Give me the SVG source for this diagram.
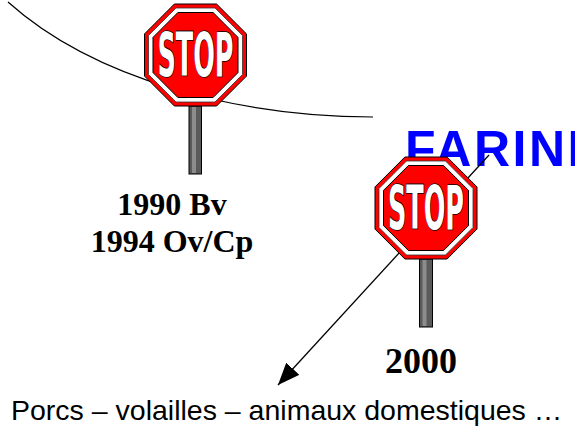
<svg xmlns="http://www.w3.org/2000/svg" width="575" height="429" viewBox="0 0 575 429">
<style>
.red{fill:#ff0000;stroke:#000;stroke-width:1}
.wht{fill:#fff;stroke:#333;stroke-width:0.8}
.stop{font-family:"Liberation Sans Narrow","DejaVu Sans Condensed","Liberation Sans",sans-serif;font-weight:bold;font-size:34px;fill:#fff;stroke:#000;stroke-width:0.9;paint-order:stroke}
.pole{fill:#5a5a5a;stroke:#000;stroke-width:1}
.poleh{fill:#8c8c8c}
.yr{font-family:"Liberation Serif","Times New Roman",serif;font-weight:bold;fill:#000}
</style>
<defs>
<marker id="ah" markerUnits="userSpaceOnUse" markerWidth="24" markerHeight="18" refX="22" refY="9" orient="auto">
<path d="M0,0 L22,9 L0,18 Z" fill="#000"/>
</marker>
<g id="sign">
<polygon class="red" points="-21.1,-51 21.1,-51 51,-21.1 51,21.1 21.1,51 -21.1,51 -51,21.1 -51,-21.1"/>
<polygon class="wht" points="-19.5,-47 19.5,-47 47,-19.5 47,19.5 19.5,47 -19.5,47 -47,19.5 -47,-19.5"/>
<polygon class="red" points="-17.6,-42.5 17.6,-42.5 42.5,-17.6 42.5,17.6 17.6,42.5 -17.6,42.5 -42.5,17.6 -42.5,-17.6"/>
<text class="stop" x="0" y="0" text-anchor="middle" textLength="76" lengthAdjust="spacingAndGlyphs" transform="translate(0,21) scale(1,1.8)">STOP</text>
</g>
</defs>
<g id="connectors">
<path d="M8,2 C95,80 240,117 373,117" fill="none" stroke="#000" stroke-width="1.2"/>
</g>
<g id="stop1">
<rect class="pole" x="189" y="106" width="12.5" height="68"/>
<rect class="poleh" x="192" y="107" width="4" height="66"/>
<use href="#sign" x="195.5" y="55"/>
</g>
<g id="label1">
<text class="yr" x="172" y="215" font-size="32" text-anchor="middle">1990 Bv</text>
<text class="yr" x="172" y="252" font-size="32" text-anchor="middle">1994 Ov/Cp</text>
</g>
<g id="farines">
<text x="405" y="166" font-family="'Liberation Sans',Arial,sans-serif" font-weight="bold" font-size="50" letter-spacing="2.5" fill="#0000ff">FARINES</text>
</g>
<g id="connector2">
<line x1="489" y1="155" x2="278" y2="385" stroke="#000" stroke-width="1.3" marker-end="url(#ah)"/>
</g>
<g id="stop2">
<rect class="pole" x="419.5" y="259" width="13" height="68"/>
<rect class="poleh" x="422.5" y="260" width="4" height="66"/>
<use href="#sign" x="426" y="208"/>
</g>
<g id="label2">
<text class="yr" x="421" y="373" font-size="36" text-anchor="middle">2000</text>
</g>
<g id="bottom">
<text x="11" y="420" font-family="'Liberation Sans',Arial,sans-serif" font-size="28.5" fill="#000">Porcs – volailles – animaux domestiques …</text>
</g>
</svg>
